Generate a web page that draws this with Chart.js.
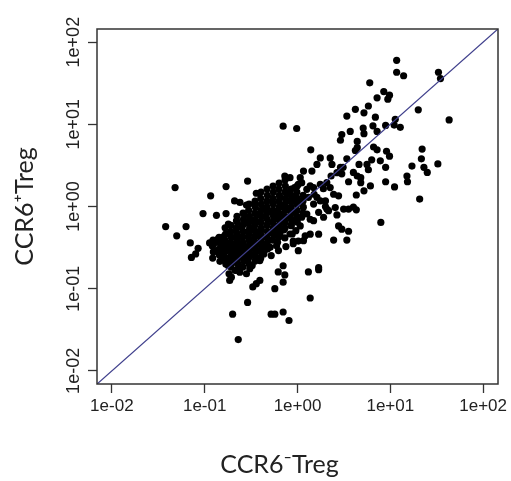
<!DOCTYPE html>
<html>
<head>
<meta charset="utf-8">
<script src="https://cdn.jsdelivr.net/npm/chart.js@4.4.1/dist/chart.umd.min.js"></script>
<style>
    html, body { margin: 0; padding: 0; background: #fff; }
</style>
</head>
<body>
<canvas id="Chart" width="511" height="481"></canvas>
<script>
// CCR6- Treg (x) against CCR6+ Treg (y)
const ccr6Neg = [
    11.7, 11.7, 13.9, 33, 34.7, 6.0, 8.5, 9.8, 7.2, 9.4,
    20, 4.2, 5.2, 3.4, 5.8, 6.9, 43, 11.3, 11.0, 12.8,
    0.70, 0.98, 5.1, 6.5, 5.2, 3.7, 3.0, 2.9, 4.4, 7.2,
    8.9, 6.6, 7.2, 9.1, 9.8, 1.39, 4.4, 4.2, 22, 21.6,
    32.5, 23, 25, 17.1, 1.76, 2.25, 2.35, 3.4, 2.9, 2.3,
    1.62, 4.6, 5.6, 6.3, 5.8, 8.9, 7.8, 15.1, 15.3, 11.1,
    8.9, 20.7, 7.9, 4.0, 4.4, 4.8, 3.55, 4.8, 6.1, 5.2,
    4.3, 2.66, 3.1, 3.0, 2.07, 1.76, 1.9, 2.25, 2.45, 2.77,
    1.43, 1.16, 1.07, 0.73, 0.83, 1.02, 1.11, 1.26, 1.37, 1.51,
    1.62, 1.76, 3.14, 2.66, 4.0, 4.3, 2.77, 3.0, 3.55, 2.45,
    3.4, 2.0, 2.16, 1.69, 1.37, 1.26, 0.98, 1.07, 1.37, 1.21,
    1.69, 1.02, 0.90, 1.02, 0.70, 0.62, 0.73, 0.70, 1.31, 1.69,
    1.69, 1.37, 0.57, 0.33, 0.36, 0.29, 0.20, 0.52, 0.57, 0.70,
    0.81, 0.23, 0.048, 0.038, 0.050, 0.063, 0.096, 0.116, 0.134, 0.17,
    0.17, 0.29, 0.21, 0.24, 0.36, 0.35, 0.070, 0.085, 0.072, 0.080,
    0.113, 0.139, 0.18, 0.22,
    // around the cluster
    0.125, 0.134, 0.143, 0.151, 0.155, 0.160, 0.164, 0.171, 0.174, 0.179,
    0.183, 0.186, 0.189, 0.194, 0.199, 0.202, 0.207, 0.213, 0.220, 0.224,
    0.229, 0.235, 0.243, 0.249, 0.255, 0.259, 0.266, 0.272, 0.282, 0.289,
    0.296, 0.301, 0.309, 0.316, 0.325, 0.333, 0.341, 0.350, 0.358, 0.368,
    0.377, 0.386, 0.396, 0.406, 0.416, 0.427, 0.434, 0.448, 0.459, 0.471,
    0.483, 0.496, 0.508, 0.521, 0.54, 0.552, 0.565, 0.58, 0.595, 0.61,
    0.624, 0.647, 0.663, 0.68, 0.696, 0.714, 0.731, 0.75, 0.776, 0.794,
    0.813, 0.835, 0.856, 0.877, 0.90, 0.93, 0.952, 0.978, 0.945, 0.915,
    0.96, 0.282, 0.266, 1.49, 0.794, 0.90, 1.11, 1.31, 1.49, 2.0,
    2.07, 2.55, 3.55, 0.525, 0.619, 1.11, 1.49, 1.91, 0.548, 0.647,
    0.829, 1.16, 0.444, 0.595, 0.409, 0.393, 0.393, 0.306, 0.194, 0.239,
    0.21, 0.24, 0.19, 0.26, 0.23, 0.17, 0.28, 0.32, 0.30, 0.22,
    // solid core of the cluster
    0.123, 0.121, 0.124, 0.122,
    0.143, 0.145, 0.142, 0.144, 0.146,
    0.166, 0.168, 0.165, 0.167, 0.164, 0.166, 0.169,
    0.192, 0.19, 0.194, 0.191, 0.193, 0.195, 0.19, 0.192,
    0.223, 0.225, 0.22, 0.224, 0.222, 0.226, 0.221, 0.223, 0.227, 0.222,
    0.259, 0.262, 0.257, 0.26, 0.258, 0.261, 0.256, 0.26, 0.263, 0.258,
    0.301, 0.298, 0.303, 0.30, 0.305, 0.299, 0.302, 0.30, 0.304, 0.297, 0.301,
    0.349, 0.352, 0.347, 0.35, 0.346, 0.351, 0.348, 0.353, 0.35, 0.345, 0.349,
    0.405, 0.402, 0.408, 0.404, 0.407, 0.403, 0.406, 0.401, 0.405, 0.409, 0.404, 0.402,
    0.47, 0.474, 0.468, 0.471, 0.466, 0.473, 0.469, 0.472, 0.467, 0.47, 0.475,
    0.546, 0.55, 0.543, 0.548, 0.545, 0.552, 0.544, 0.547, 0.549, 0.542,
    0.634, 0.63, 0.637, 0.632, 0.636, 0.631, 0.635, 0.633, 0.638, 0.63,
    0.735, 0.74, 0.731, 0.737, 0.733, 0.738, 0.732, 0.736, 0.734,
    0.853, 0.857, 0.85, 0.855, 0.851, 0.856, 0.852,
    0.99, 0.985, 0.995, 0.988, 0.992, 0.986, 0.994,
    1.15, 1.145, 1.155, 1.148
];
const ccr6Pos = [
    60, 43, 39, 43, 36, 32, 25, 22.6, 21, 20.2,
    15, 15.2, 13.8, 12.6, 16.7, 12.2, 11.3, 11.5, 9.8, 9.2,
    9.5, 8.9, 9.0, 9.6, 7.7, 8.2, 7.5, 6.4, 6.2, 8.2,
    9.7, 5.3, 4.9, 4.7, 4.1, 4.9, 5.2, 4.8, 5.0, 3.8,
    3.3, 3.0, 2.6, 3.1, 3.9, 3.9, 3.25, 3.8, 3.0, 2.35,
    3.25, 3.25, 3.25, 3.7, 2.8, 3.0, 3.6, 2.35, 2.0, 1.73,
    2.0, 1.23, 0.64, 2.6, 2.35, 2.24, 2.0, 1.95, 1.78, 1.55,
    1.38, 2.58, 3.0, 2.5, 1.95, 1.86, 1.65, 1.7, 1.41, 1.35,
    2.7, 2.7, 2.24, 2.35, 2.24, 1.86, 1.95, 1.62, 1.78, 1.41,
    1.29, 1.17, 0.93, 0.79, 0.98, 0.91, 0.58, 0.53, 0.50, 0.39,
    0.39, 1.0, 0.89, 0.85, 0.70, 0.81, 0.67, 0.58, 0.46, 0.44,
    0.46, 0.38, 0.38, 0.29, 0.19, 0.16, 0.147, 0.12, 0.16, 0.18,
    0.17, 0.077, 0.10, 0.105, 0.115, 0.068, 0.049, 0.049, 0.049, 0.052,
    0.041, 0.024, 1.7, 0.57, 0.44, 0.57, 0.82, 1.35, 0.78, 1.75,
    0.82, 2.04, 1.17, 1.12, 1.45, 1.07, 0.36, 0.31, 0.24, 0.265,
    0.36, 0.40, 0.61, 0.67,
    // around the cluster
    0.35, 0.291, 0.384, 0.265, 0.319, 0.43, 0.237, 0.367, 0.291, 0.191,
    0.152, 0.126, 0.246, 0.422, 0.344, 0.278, 0.21, 0.167, 0.485, 0.384,
    0.305, 0.241, 0.183, 0.558, 0.43, 0.35, 0.278, 0.22, 0.152, 0.625,
    0.50, 0.403, 0.319, 0.253, 0.191, 0.672, 0.533, 0.442, 0.353, 0.291,
    0.237, 0.81, 0.64, 0.52, 0.422, 0.343, 0.265, 0.93, 0.737, 0.60,
    0.485, 0.39, 0.319, 0.253, 1.12, 0.89, 0.703, 0.569, 0.454, 0.367,
    0.291, 1.285, 1.02, 0.81, 0.64, 0.52, 0.414, 0.325, 1.48, 1.17,
    0.93, 0.737, 0.584, 0.463, 0.353, 1.70, 1.35, 1.09, 0.85, 0.672,
    0.508, 1.04, 0.81, 1.70, 1.41, 1.285, 1.17, 1.29, 1.07, 1.17,
    0.93, 0.97, 0.93, 0.85, 0.81, 0.74, 0.672, 0.74, 0.508, 0.463,
    0.463, 0.384, 0.319, 0.334, 0.422, 0.22, 0.126, 0.175, 0.138, 0.159,
    0.32, 0.27, 0.30, 0.31, 0.36, 0.33, 0.26, 0.36, 0.29, 0.23,
    // solid core of the cluster
    0.39, 0.33, 0.28, 0.236,
    0.42, 0.36, 0.30, 0.257, 0.215,
    0.55, 0.46, 0.39, 0.33, 0.28, 0.235, 0.20,
    0.59, 0.50, 0.425, 0.36, 0.30, 0.255, 0.217, 0.183,
    0.76, 0.645, 0.545, 0.46, 0.39, 0.33, 0.28, 0.236, 0.20, 0.168,
    0.83, 0.70, 0.59, 0.50, 0.425, 0.36, 0.303, 0.257, 0.217, 0.183,
    1.07, 0.90, 0.76, 0.645, 0.546, 0.46, 0.39, 0.33, 0.28, 0.236, 0.199,
    1.16, 0.98, 0.83, 0.70, 0.593, 0.50, 0.424, 0.36, 0.303, 0.257, 0.217,
    1.50, 1.26, 1.07, 0.90, 0.76, 0.645, 0.546, 0.46, 0.39, 0.33, 0.279, 0.236,
    1.63, 1.37, 1.16, 0.98, 0.83, 0.70, 0.593, 0.50, 0.424, 0.36, 0.303,
    1.77, 1.50, 1.26, 1.07, 0.90, 0.76, 0.645, 0.546, 0.46, 0.39,
    1.93, 1.63, 1.37, 1.16, 0.98, 0.83, 0.70, 0.593, 0.50, 0.424,
    2.10, 1.77, 1.50, 1.26, 1.07, 0.90, 0.76, 0.645, 0.546,
    1.63, 1.37, 1.16, 0.98, 0.83, 0.70, 0.593,
    1.77, 1.50, 1.26, 1.07, 0.90, 0.76, 0.645,
    1.37, 1.16, 0.98, 0.83
];
const tickValues = [0.01, 0.1, 1, 10, 100];
const tickLabels = ['1e-02', '1e-01', '1e+00', '1e+01', '1e+02'];
const axisLimits = [0.00692, 144.5];
const xTitle = 'CCR6⁻Treg';
const yTitle = 'CCR6⁺Treg';

const points = ccr6Neg.map((v, i) => ({ x: v, y: ccr6Pos[i] }));
const diagonal = axisLimits.map(v => ({ x: v, y: v }));

// box round the plot, and the x title (it sits a bit left of centre)
const framePlugin = {
    id: 'frame',
    afterDraw(chart) {
        const { ctx, chartArea: a } = chart;
        ctx.save();
        ctx.strokeStyle = '#333';
        ctx.lineWidth = 1.5;
        ctx.strokeRect(a.left, a.top, a.right - a.left, a.bottom - a.top);
        ctx.fillStyle = '#222';
        ctx.font = '25px Lato, "Noto Sans", sans-serif';
        ctx.textAlign = 'center';
        ctx.textBaseline = 'alphabetic';
        ctx.fillText(xTitle, (a.left + a.right) / 2 - 18, 473);
        ctx.restore();
    }
};

function logAxis(isY) {
    return {
        type: 'logarithmic',
        min: axisLimits[0],
        max: axisLimits[1],
        afterBuildTicks: scale => {
            scale.ticks = tickValues.map(v => ({ value: v }));
        },
        afterFit: scale => {
            if (isY) scale.width = 97;
            else scale.height = 97;
        },
        ticks: {
            autoSkip: false,
            minRotation: isY ? 90 : 0,
            maxRotation: isY ? 90 : 0,
            crossAlign: isY ? 'center' : 'near',
            padding: isY ? -11 : 3,
            color: '#222',
            font: { family: 'Liberation Sans', size: isY ? 18 : 17 },
            callback: (value, index) => tickLabels[index]
        },
        grid: {
            display: true,
            drawOnChartArea: false,
            drawTicks: true,
            tickLength: 9,
            tickColor: '#333',
            tickWidth: 1.3
        },
        border: { display: false },
        title: {
            display: isY,
            text: yTitle,
            color: '#222',
            font: { family: 'Lato', size: 25 },
            padding: { top: 10, bottom: 0 }
        }
    };
}

new Chart(document.getElementById('Chart'), {
    type: 'scatter',
    data: {
        datasets: [{
            type: 'line',
            data: diagonal,
            borderColor: '#3f3f8c',
            borderWidth: 1.3,
            pointRadius: 0,
            fill: false,
            order: 0
        }, {
            data: points,
            backgroundColor: '#000',
            borderWidth: 0,
            pointRadius: 3.6,
            pointHoverRadius: 3.6,
            order: 1
        }]
    },
    options: {
        responsive: false,
        animation: false,
        devicePixelRatio: 1,
        layout: { padding: { top: 29, right: 13, left: 0, bottom: 0 } },
        plugins: {
            legend: { display: false },
            tooltip: { enabled: false }
        },
        scales: {
            x: logAxis(false),
            y: logAxis(true)
        }
    },
    plugins: [framePlugin]
});
</script>
</body>
</html>
